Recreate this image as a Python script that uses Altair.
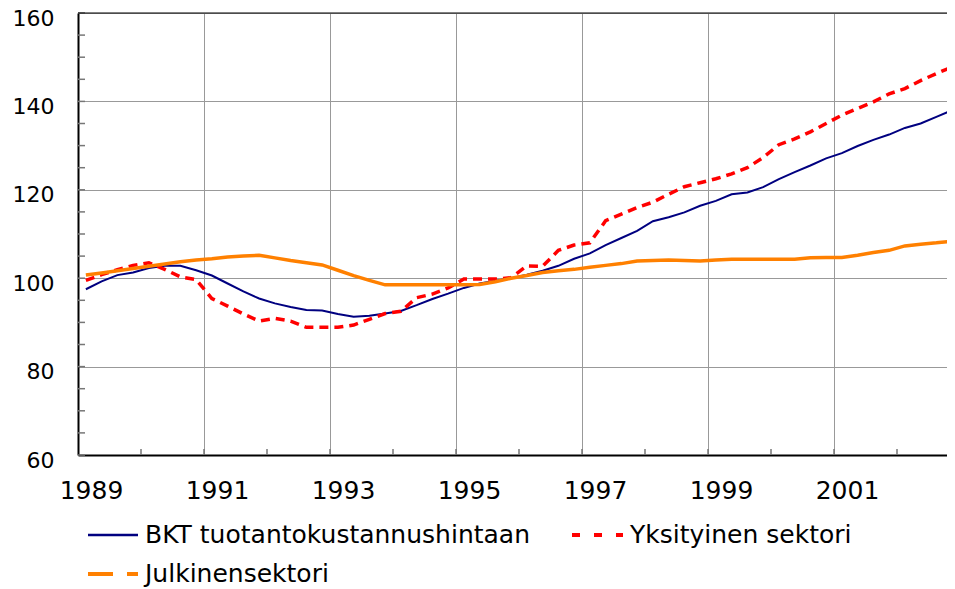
import altair as alt
import pandas as pd

# ---------------- data ----------------
years = list(range(1989, 2003))
quarters = [f"{y}Q{q}" for y in years for q in range(1, 5)]

bkt = [97.5, 99.3, 100.7, 101.3, 102.3, 102.8, 102.8, 101.8,
       100.6, 98.8, 97.0, 95.4, 94.3, 93.5, 92.8, 92.7,
       91.9, 91.3, 91.5, 92.0, 92.6, 93.9, 95.3, 96.5,
       97.8, 98.8, 99.4, 100.0, 100.8, 101.7, 102.8, 104.4,
       105.6, 107.5, 109.1, 110.7, 112.9, 113.8, 114.9, 116.4,
       117.5, 119.0, 119.4, 120.6, 122.4, 124.0, 125.5, 127.1,
       128.3, 129.9, 131.3, 132.5, 134.0, 135.0, 136.5, 138.0]

yks = [99.5, 100.8, 101.9, 102.9, 103.5, 102.0, 100.3, 99.7,
       95.4, 93.7, 91.9, 90.3, 90.9, 90.3, 88.9, 88.9,
       88.9, 89.4, 90.7, 92.0, 92.5, 95.6, 96.4, 97.8,
       99.8, 99.8, 99.8, 100.1, 102.8, 102.7, 106.3, 107.5,
       108.0, 113.0, 114.5, 116.0, 117.2, 119.0, 120.7, 121.6,
       122.5, 123.6, 125.0, 127.3, 130.2, 131.5, 133.1, 135.0,
       136.9, 138.4, 139.9, 141.7, 142.9, 144.7, 146.3, 147.8]

jul = [100.7, 101.2, 101.7, 102.2, 102.7, 103.2, 103.7, 104.1,
       104.4, 104.8, 105.0, 105.2, 104.6, 104.0, 103.5, 103.0,
       101.8, 100.6, 99.5, 98.5, 98.5, 98.5, 98.5, 98.5,
       98.5, 98.6, 99.2, 100.0, 100.6, 101.3, 101.7, 102.0,
       102.5, 102.9, 103.3, 103.9, 104.0, 104.1, 104.0, 103.9,
       104.1, 104.3, 104.3, 104.3, 104.3, 104.3, 104.6, 104.7,
       104.7, 105.2, 105.8, 106.3, 107.3, 107.7, 108.0, 108.4]

series_names = ["BKT tuotantokustannushintaan", "Yksityinen sektori", "Julkinensektori"]
series_colors = ["#000080", "#FF0000", "#FF8000"]

y_label_values = [60, 80, 100, 120, 140, 160]
x_label_years = [1989, 1991, 1993, 1995, 1997, 1999, 2001]
y_minor = list(range(60, 161, 5))
x_minor = list(range(1990, 2003))

FONT = "DejaVu Sans"
FS = 25
W, H = 869, 442
PX_PER_YEAR = 63.0


def qpos(q):
    return int(q[:4]) + (int(q[-1]) - 0.5) / 4


frames = []
for name, vals in zip(series_names, [bkt, yks, jul]):
    frames.append(pd.DataFrame({"quarter": quarters, "value": vals, "series": name}))
df = pd.concat(frames, ignore_index=True)
df["t"] = df["quarter"].map(qpos)

xscale = alt.Scale(domain=[1989, 1989 + W / PX_PER_YEAR], nice=False, zero=False)
yscale = alt.Scale(domain=[60, 160], nice=False, zero=False)

x_axis = alt.Axis(values=x_label_years, format="d", title=None, grid=True,
                  gridColor="#999999", gridWidth=1, ticks=False,
                  domainColor="black", domainWidth=2,
                  labelFont=FONT, labelFontSize=FS, labelColor="black",
                  labelOffset=13, labelPadding=43, labelBaseline="alphabetic",
                  labelFlush=False, labelOverlap=False)
y_axis = alt.Axis(values=y_label_values, title=None, grid=True,
                  gridColor="#999999", gridWidth=1, ticks=False,
                  domainColor="black", domainWidth=2,
                  labelFont=FONT, labelFontSize=22, labelColor="black",
                  labelOffset=5, labelPadding=24, labelFlush=False, labelOverlap=False)

base = alt.Chart(df)


def series_line(name, color, width, dash=None):
    kw = dict(color=color, strokeWidth=width, clip=True)
    if dash:
        kw["strokeDash"] = dash
    return base.transform_filter(alt.datum.series == name).mark_line(**kw).encode(
        x=alt.X("t:Q", scale=xscale, axis=x_axis),
        y=alt.Y("value:Q", scale=yscale, axis=y_axis),
    )


line_bkt = series_line(series_names[0], series_colors[0], 2)
line_yks = series_line(series_names[1], series_colors[1], 3.5, [9, 6])
line_jul = series_line(series_names[2], series_colors[2], 3.5)

# minor ticks (inward)
ymin_df = pd.DataFrame({"value": y_minor})
y_minor_ticks = alt.Chart(ymin_df).mark_rule(color="#777777", strokeWidth=1.5).encode(
    y=alt.Y("value:Q", scale=yscale, axis=y_axis),
    x=alt.value(0), x2=alt.value(7),
)
xmin_df = pd.DataFrame({"t": x_minor})
x_minor_ticks = alt.Chart(xmin_df).mark_rule(color="#777777", strokeWidth=1.5).encode(
    x=alt.X("t:Q", scale=xscale, axis=x_axis),
    y=alt.value(H), y2=alt.value(H - 6),
)

one = pd.DataFrame({"k": [0]})
top_border = alt.Chart(one).mark_rule(color="black", strokeWidth=1).encode(
    x=alt.value(0), x2=alt.value(W), y=alt.value(0))

# manual legend
ROW1, ROW2 = 522, 561
leg_bkt_line = alt.Chart(one).mark_rule(color=series_colors[0], strokeWidth=2.5).encode(
    x=alt.value(10), x2=alt.value(60), y=alt.value(ROW1))
leg_yks_line = alt.Chart(one).mark_rule(color=series_colors[1], strokeWidth=4,
                                        strokeDash=[8, 14]).encode(
    x=alt.value(494), x2=alt.value(545), y=alt.value(ROW1))
leg_jul_line = alt.Chart(one).mark_rule(color=series_colors[2], strokeWidth=4,
                                        strokeDash=[25, 14]).encode(
    x=alt.value(10), x2=alt.value(60), y=alt.value(ROW2))


def leg_text(label, x, y):
    return alt.Chart(pd.DataFrame({"label": [label]})).mark_text(
        font=FONT, fontSize=FS, color="black", align="left", baseline="middle"
    ).encode(text="label:N", x=alt.value(x), y=alt.value(y))


leg_t1 = leg_text(series_names[0], 67, ROW1)
leg_t2 = leg_text(series_names[1], 552, ROW1)
leg_t3 = leg_text(series_names[2], 67, ROW2)

chart = alt.layer(
    y_minor_ticks, x_minor_ticks, top_border,
    line_bkt, line_yks, line_jul,
    leg_bkt_line, leg_yks_line, leg_jul_line, leg_t1, leg_t2, leg_t3,
).properties(
    width=W, height=H,
    autosize=alt.AutoSizeParams(type="none"),
    padding={"left": 70, "top": 5, "right": 0, "bottom": 134},
).configure_view(stroke=None).configure(background="white")

chart.save("out.html", embed_options={"renderer": "svg", "actions": False})
